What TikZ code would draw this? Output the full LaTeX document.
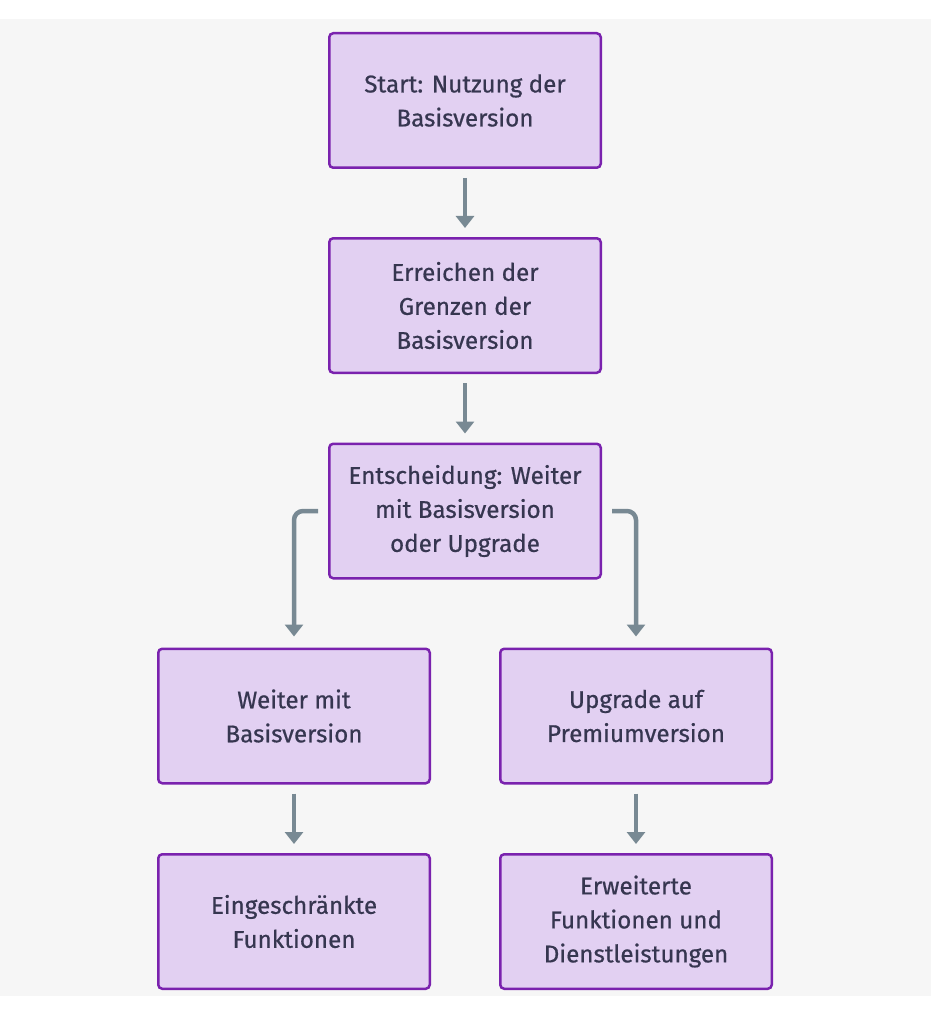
\documentclass[tikz,border=0pt]{standalone}
\usepackage{fontspec}
\setmainfont{Fira Sans}[FakeBold=0.6]
\usetikzlibrary{arrows.meta}
\definecolor{bgc}{HTML}{F6F6F6}
\definecolor{boxfill}{HTML}{E2D0F2}
\definecolor{boxborder}{HTML}{7A22AE}
\definecolor{txt}{HTML}{363650}
\definecolor{arrc}{HTML}{788993}
\tikzset{
  box/.style={rectangle, rounded corners=4pt, draw=boxborder, line width=2.5pt, fill=boxfill,
    minimum width=271.5pt, minimum height=134.5pt, align=center, text=txt,
    font=\fontsize{24.2}{34}\selectfont, inner sep=0pt},
  arr/.style={draw=arrc, line width=4.5pt, -{Triangle[width=18pt,length=12pt]}}
}
\begin{document}
\begin{tikzpicture}[x=1pt,y=-1pt]
\useasboundingbox (0,0) rectangle (931,1024);
\fill[white] (0,0) rectangle (931,1024);
\fill[bgc] (0,19) rectangle (931,996);
\node[box] (a) at (465,100.5) {Start: Nutzung der\\Basisversion};
\node[box] (b) at (465,305.5) {Erreichen der\\Grenzen der\\Basisversion};
\node[box] (c) at (465,511) {Entscheidung: Weiter\\mit Basisversion\\oder Upgrade};
\node[box] (d) at (294,716) {Weiter mit\\Basisversion};
\node[box] (e) at (636,716) {Upgrade auf\\Premiumversion};
\node[box] (f) at (294,921.5) {Eingeschränkte\\Funktionen};
\node[box] (g) at (636,921.5) {Erweiterte\\Funktionen und\\Dienstleistungen};
\draw[arr] ([yshift=-9pt]a.south) -- ([yshift=9pt]b.north);
\draw[arr] ([yshift=-9pt]b.south) -- ([yshift=9pt]c.north);
\draw[arr, rounded corners=9pt] ([xshift=-10pt]c.west) -| ([yshift=11pt]d.north);
\draw[arr, rounded corners=9pt] ([xshift=10pt]c.east) -| ([yshift=11pt]e.north);
\draw[arr] ([yshift=-9pt]d.south) -- ([yshift=9pt]f.north);
\draw[arr] ([yshift=-9pt]e.south) -- ([yshift=9pt]g.north);
\end{tikzpicture}
\end{document}
